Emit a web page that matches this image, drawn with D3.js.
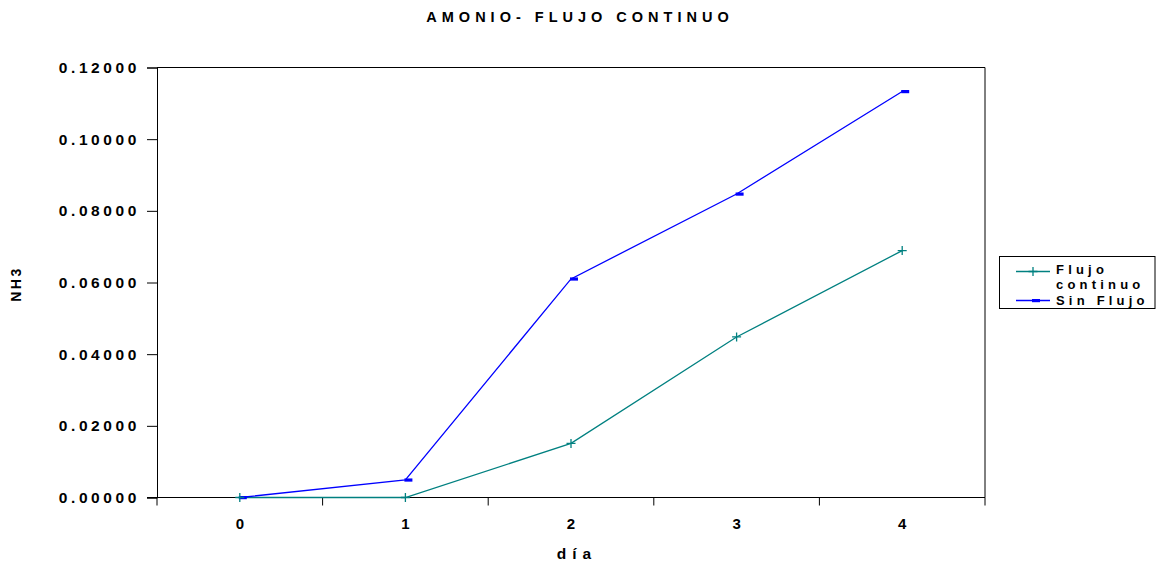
<!DOCTYPE html>
<html>
<head>
<meta charset="utf-8">
<script src="https://cdn.jsdelivr.net/npm/d3@7"></script>
<style>
  html, body { margin: 0; padding: 0; background: #fff; }
  svg text { font-family: "Liberation Sans", Arial, sans-serif; font-weight: bold; fill: #000; }
</style>
</head>
<body>
<svg id="chart" width="1156" height="564"></svg>
<script>
// Ammonia (NH3) by day, with and without continuous flow
const days = ["0", "1", "2", "3", "4"];
const flujoContinuo = [0.0, 0.0, 0.0151, 0.0448, 0.0689];
const sinFlujo = [0.0, 0.0049, 0.0610, 0.0847, 0.1133];
const yTicks = [0, 0.02, 0.04, 0.06, 0.08, 0.10, 0.12];
const seriesNames = ["Flujo continuo", "Sin Flujo"];

const svg = d3.select("#chart");
const plot = { left: 157, right: 985, top: 67.5, bottom: 497.5 };

const x = d3.scaleBand().domain(days).range([plot.left, plot.right]).padding(0);
const y = d3.scaleLinear().domain([0, 0.12]).range([plot.bottom, plot.top]);
const cx = d => x(d) + x.bandwidth() / 2;

// Title
svg.append("text")
  .attr("x", 580).attr("y", 22)
  .attr("text-anchor", "middle")
  .style("font-size", "14.5px")
  .style("letter-spacing", "5px")
  .text("AMONIO- FLUJO CONTINUO");

// Plot frame (top and right edges)
svg.append("path")
  .attr("d", `M${plot.left},${plot.top}H${plot.right}V${plot.bottom}`)
  .attr("fill", "none").attr("stroke", "#000").attr("stroke-width", 1);

// Y axis
const yAxis = d3.axisLeft(y).tickValues(yTicks).tickFormat(d3.format(".5f"))
  .tickSize(10).tickPadding(7);
const gy = svg.append("g").attr("transform", `translate(${plot.left},0)`).call(yAxis);
gy.select(".domain").attr("stroke", "#000");
gy.selectAll(".tick line").attr("stroke", "#000");
gy.selectAll(".tick text")
  .style("font-size", "15.5px").style("letter-spacing", "3.6px")
  .style("font-family", "'Liberation Sans', Arial, sans-serif")
  .style("font-weight", "bold");

// X axis: labels at category centres, ticks at category boundaries
const gx = svg.append("g").attr("transform", `translate(0,${plot.bottom})`);
gx.append("line").attr("x1", plot.left - 10).attr("x2", plot.right)
  .attr("stroke", "#000");
const bounds = days.map(d => x(d)).concat([plot.right]);
gx.selectAll(".xt").data(bounds).enter().append("line")
  .attr("x1", d => d).attr("x2", d => d).attr("y1", 0).attr("y2", 8)
  .attr("stroke", "#000");
gx.selectAll(".xl").data(days).enter().append("text")
  .attr("x", d => cx(d)).attr("y", 31)
  .attr("text-anchor", "middle")
  .style("font-size", "15px")
  .text(d => d);

// Axis titles
svg.append("text")
  .attr("x", 577).attr("y", 559)
  .attr("text-anchor", "middle")
  .style("font-size", "15.5px").style("letter-spacing", "6px")
  .text("día");
svg.append("text")
  .attr("transform", "translate(21,284) rotate(-90)")
  .attr("text-anchor", "middle")
  .style("font-size", "14px").style("letter-spacing", "2.5px")
  .text("NH3");

// Lines
const line = d3.line().x((v, i) => cx(days[i])).y(v => y(v));
const colors = ["#008080", "#0000ff"];
[flujoContinuo, sinFlujo].forEach((vals, k) => {
  svg.append("path").datum(vals)
    .attr("d", line).attr("fill", "none")
    .attr("stroke", colors[k]).attr("stroke-width", 1.3);
});

// Markers: plus for continuous flow, short bar for no flow
function plus(g, px, py, color) {
  g.append("path")
    .attr("d", `M${px - 4.5},${py}H${px + 4.5}M${px},${py - 4.5}V${py + 4.5}`)
    .attr("stroke", color).attr("stroke-width", 1.3).attr("fill", "none");
}
function bar(g, px, py, color) {
  g.append("rect")
    .attr("x", px - 1).attr("y", py - 1.5).attr("width", 8).attr("height", 3.2)
    .attr("fill", color);
}
const mk = svg.append("g");
sinFlujo.forEach((v, i) => bar(mk, cx(days[i]), y(v), colors[1]));
flujoContinuo.forEach((v, i) => plus(mk, cx(days[i]), y(v), colors[0]));

// Legend
const lg = svg.append("g");
lg.append("rect").attr("x", 999.5).attr("y", 256.5).attr("width", 155.5).attr("height", 52)
  .attr("fill", "#fff").attr("stroke", "#000");
lg.append("line").attr("x1", 1016).attr("x2", 1050).attr("y1", 271.5).attr("y2", 271.5)
  .attr("stroke", colors[0]).attr("stroke-width", 1.3);
plus(lg, 1033, 271.5, colors[0]);
lg.append("line").attr("x1", 1016).attr("x2", 1050).attr("y1", 300.5).attr("y2", 300.5)
  .attr("stroke", colors[1]).attr("stroke-width", 1.3);
bar(lg, 1033, 300.5, colors[1]);
const lt = lg.append("text").style("font-size", "13px").style("letter-spacing", "4.2px");
lt.append("tspan").attr("x", 1056).attr("y", 274).text("Flujo");
lt.append("tspan").attr("x", 1056).attr("y", 289).text("continuo");
lg.append("text").attr("x", 1056).attr("y", 305)
  .style("font-size", "13px").style("letter-spacing", "4.2px")
  .text(seriesNames[1]);
</script>
</body>
</html>
